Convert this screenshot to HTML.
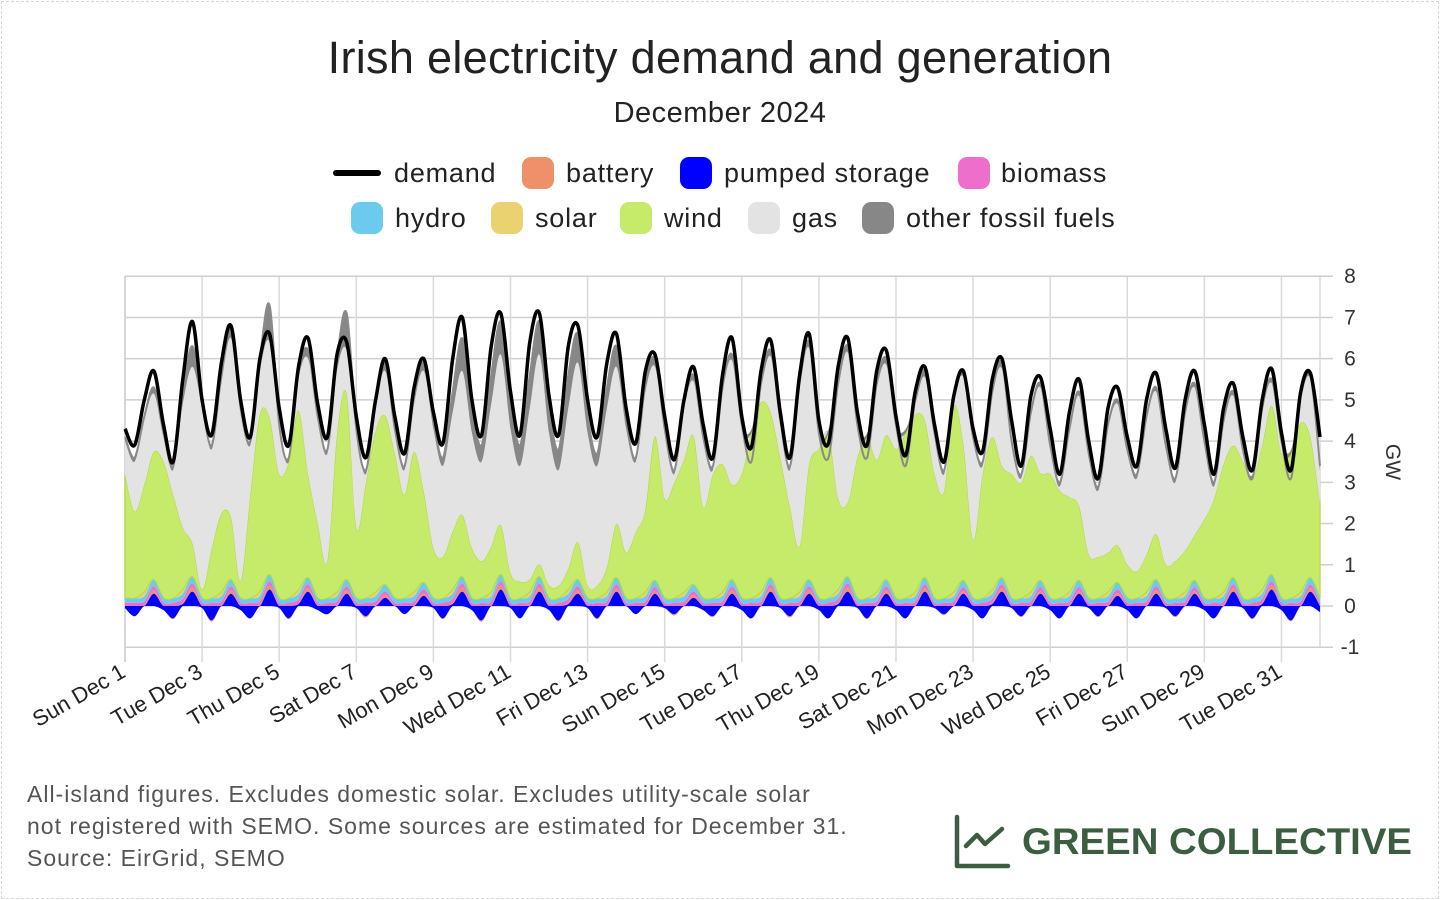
<!DOCTYPE html>
<html><head><meta charset="utf-8"><style>
body{margin:0;background:#fff;font-family:"Liberation Sans",sans-serif;}
#wrap{position:relative;width:1440px;height:900px;overflow:hidden;}
#border{position:absolute;left:1px;top:1px;width:1436px;height:896px;border:1px dashed #d8d8d8;}
.t{position:absolute;color:#222;white-space:nowrap;}
.sw{position:absolute;width:32px;height:32px;border-radius:9px;}
.lt{position:absolute;font-size:27px;color:#222;white-space:nowrap;line-height:32px;letter-spacing:0.8px;}
.foot{position:absolute;left:27px;font-size:23px;color:#555;white-space:nowrap;letter-spacing:1px;}
</style></head><body>
<div id="wrap">
<div id="border"></div>
<div class="t" style="left:0;width:1440px;text-align:center;top:32px;font-size:45px;letter-spacing:0.3px;">Irish electricity demand and generation</div>
<div class="t" style="left:0;width:1440px;text-align:center;top:97px;font-size:29px;letter-spacing:0.5px;">December 2024</div>

<div>
<div><div style="position:absolute;left:333px;top:170px;width:48px;height:6px;border-radius:3px;background:#000"></div><div class="lt" style="left:394px;top:157px">demand</div></div>
<div><div class="sw" style="left:522px;top:157px;background:#ee906a"></div><div class="lt" style="left:566px;top:157px">battery</div></div>
<div><div class="sw" style="left:680px;top:157px;background:#0000ff"></div><div class="lt" style="left:724px;top:157px">pumped storage</div></div>
<div><div class="sw" style="left:958px;top:157px;background:#ee6ecb"></div><div class="lt" style="left:1001px;top:157px">biomass</div></div>
<div><div class="sw" style="left:351px;top:202px;background:#6ccaee"></div><div class="lt" style="left:395px;top:202px">hydro</div></div>
<div><div class="sw" style="left:491px;top:202px;background:#ebd270"></div><div class="lt" style="left:535px;top:202px">solar</div></div>
<div><div class="sw" style="left:620px;top:202px;background:#c6ea6a"></div><div class="lt" style="left:664px;top:202px">wind</div></div>
<div><div class="sw" style="left:748px;top:202px;background:#e3e3e3"></div><div class="lt" style="left:792px;top:202px">gas</div></div>
<div><div class="sw" style="left:862px;top:202px;background:#878787"></div><div class="lt" style="left:906px;top:202px">other fossil fuels</div></div>
</div>

<svg id="chart" width="1440" height="900" style="position:absolute;left:0;top:0" xmlns="http://www.w3.org/2000/svg"></svg>

<div class="foot" style="top:781px">All-island figures. Excludes domestic solar. Excludes utility-scale solar</div>
<div class="foot" style="top:813px">not registered with SEMO. Some sources are estimated for December 31.</div>
<div class="foot" style="top:845px">Source: EirGrid, SEMO</div>

<svg width="480" height="70" style="position:absolute;left:945px;top:808px" xmlns="http://www.w3.org/2000/svg">
<path d="M12 9 V58 H63 M21 38 L32 27 L40 36 L57 21" fill="none" stroke="#3b5e40" stroke-width="4.5" stroke-linecap="round" stroke-linejoin="round"/>
<text x="77" y="46" font-family="Liberation Sans, sans-serif" font-weight="bold" font-size="37" fill="#3b5e40" textLength="390" lengthAdjust="spacingAndGlyphs">GREEN COLLECTIVE</text>
</svg>
</div>
<script>
// sample hours within each day
const sampleHours = [0, 6, 12, 18];
const dayLabels = ["Sun Dec 1","Tue Dec 3","Thu Dec 5","Sat Dec 7","Mon Dec 9","Wed Dec 11","Fri Dec 13","Sun Dec 15","Tue Dec 17","Thu Dec 19","Sat Dec 21","Mon Dec 23","Wed Dec 25","Fri Dec 27","Sun Dec 29","Tue Dec 31"];
const yTicks = [8,7,6,5,4,3,2,1,0,-1];
// GW, 4 samples per day (00,06,12,18) for Dec 1..31, plus Jan 1 00:00
const demand = [
4.3,3.9,5.0,5.7, 4.4,3.5,5.5,6.9, 5.0,4.15,5.9,6.8, 5.0,4.1,6.0,6.6, 4.8,3.9,5.8,6.5,
4.9,4.1,6.1,6.4, 4.6,3.6,5.0,6.0, 4.6,3.7,5.3,6.0, 4.7,3.95,6.0,7.0, 5.0,4.15,6.3,7.1,
5.2,4.15,6.4,7.1, 5.1,4.15,6.3,6.8, 5.0,4.1,5.9,6.6, 4.8,3.95,5.7,6.1, 4.6,3.55,5.0,5.8,
4.4,3.6,5.6,6.5, 4.6,3.85,5.7,6.45, 4.7,3.6,5.6,6.6, 4.5,3.95,5.8,6.5, 4.7,3.9,5.7,6.2,
4.6,3.65,5.2,5.8, 4.4,3.5,5.1,5.7, 4.3,3.75,5.5,6.0, 4.5,3.4,5.1,5.55, 4.3,3.2,4.7,5.5,
4.0,3.1,4.8,5.3, 4.1,3.4,5.0,5.65, 4.3,3.35,5.0,5.7, 4.4,3.2,4.8,5.4, 4.1,3.3,5.0,5.75,
4.2,3.3,5.2,5.65, 4.1];
const generation = [
4.1,3.6,4.6,5.3, 4.2,3.4,5.2,6.3, 4.9,3.9,5.6,6.8, 4.8,4.0,6.0,7.3, 4.4,3.6,5.7,6.2,
4.6,3.8,6.0,7.1, 4.3,3.3,4.9,5.9, 4.3,3.4,5.1,5.9, 4.5,3.6,5.2,6.5, 4.8,3.9,5.6,6.9,
5.0,3.9,5.6,6.9, 4.8,3.8,5.6,6.6, 4.6,3.7,5.3,6.3, 4.5,3.6,5.4,6.0, 4.3,3.3,4.9,5.6,
4.1,3.4,5.3,6.1, 4.4,3.5,5.4,6.2, 4.5,3.4,5.4,6.4, 4.2,3.6,5.4,6.3, 4.4,3.6,5.4,6.0,
4.4,3.4,5.0,5.7, 4.2,3.3,5.1,5.7, 4.1,3.5,5.2,5.9, 4.0,3.2,4.7,5.4, 3.9,3.0,4.3,5.2,
3.7,2.9,4.4,5.0, 3.8,3.2,4.6,5.3, 3.9,3.1,4.7,5.4, 4.0,3.0,4.5,5.2, 3.8,3.1,4.8,5.5,
4.0,3.1,5.1,5.6, 3.4];
const wind = [
3.0,2.1,2.6,3.1, 3.3,2.5,1.5,0.8, 0.2,1.2,1.9,1.5, 0.4,2.5,4.3,3.8, 3.0,3.3,4.35,2.5,
1.8,0.9,3.8,4.5, 1.7,2.8,3.9,4.1, 3.5,2.5,3.4,2.2, 1.2,1.0,1.4,1.5, 1.2,0.9,1.1,1.2,
0.6,0.4,0.3,0.3, 0.3,0.3,0.5,0.9, 0.3,0.3,0.6,1.3, 1.1,1.6,2.0,3.5, 2.4,2.8,3.2,3.6,
2.2,3.0,3.1,2.3, 3.0,4.0,4.6,4.0, 3.4,2.2,1.1,2.8, 3.6,4.0,2.2,1.8, 3.4,3.9,3.2,3.5,
3.6,4.0,4.3,3.8, 3.0,2.6,4.5,3.3, 1.4,3.0,3.7,2.7, 3.0,2.8,3.3,2.6, 3.0,2.6,2.3,1.8,
1.05,1.0,0.95,0.9, 0.8,0.65,0.9,1.1, 0.8,0.9,1.0,1.1, 1.9,2.4,3.1,3.2, 3.3,2.9,3.5,4.1,
3.5,3.5,4.1,3.4, 2.3];
const otherFossil = [
0.1,0.1,0.1,0.15, 0.1,0.1,0.3,0.5, 0.1,0.1,0.2,0.3, 0.1,0.1,0.3,0.9, 0.1,0.1,0.2,0.2,
0.1,0.1,0.3,0.9, 0.1,0.1,0.1,0.2, 0.1,0.1,0.2,0.2, 0.2,0.2,0.5,0.8, 0.6,0.4,0.7,0.8,
0.7,0.5,0.8,0.8, 0.6,0.5,0.8,0.7, 0.4,0.3,0.5,0.5, 0.2,0.1,0.2,0.2, 0.1,0.1,0.1,0.15,
0.1,0.1,0.1,0.15, 0.1,0.1,0.1,0.15, 0.1,0.1,0.1,0.15, 0.1,0.1,0.1,0.15, 0.1,0.1,0.1,0.15,
0.1,0.1,0.1,0.15, 0.1,0.1,0.1,0.15, 0.1,0.1,0.1,0.15, 0.1,0.1,0.1,0.1, 0.1,0.1,0.1,0.1,
0.1,0.1,0.1,0.1, 0.1,0.1,0.1,0.1, 0.1,0.1,0.1,0.1, 0.1,0.1,0.1,0.1, 0.1,0.1,0.1,0.1,
0.1,0.1,0.1,0.1, 0.1];
const pumpedStorage = [
-0.05,-0.25,0.0,0.3, -0.1,-0.3,0.05,0.35, -0.05,-0.35,0.0,0.3, -0.1,-0.3,0.0,0.4, -0.05,-0.3,0.05,0.35,
-0.1,-0.2,0.0,0.3, -0.05,-0.25,0.0,0.2, 0.0,-0.2,0.0,0.25, -0.05,-0.3,0.05,0.35, -0.1,-0.35,0.0,0.4,
-0.05,-0.3,0.0,0.35, -0.1,-0.35,0.05,0.3, -0.05,-0.3,0.0,0.35, 0.0,-0.2,0.0,0.3, -0.05,-0.2,0.0,0.2,
-0.1,-0.25,0.0,0.3, -0.1,-0.3,0.0,0.35, -0.05,-0.25,0.0,0.3, -0.1,-0.3,0.05,0.35, -0.05,-0.3,0.0,0.3,
-0.1,-0.3,0.0,0.35, -0.05,-0.2,0.0,0.3, -0.1,-0.3,0.05,0.35, -0.05,-0.25,0.0,0.3, -0.1,-0.3,0.0,0.3,
-0.05,-0.25,0.0,0.25, -0.1,-0.3,0.0,0.3, -0.05,-0.25,0.0,0.3, -0.1,-0.3,0.0,0.35, -0.05,-0.3,0.05,0.4,
-0.1,-0.35,0.0,0.35, -0.15];
const battery = [
0.0,0.0,0.02,0.08, 0.0,-0.02,0.03,0.1, 0.0,-0.03,0.02,0.08, 0.0,0.0,0.03,0.1, 0.0,-0.02,0.02,0.08,
0.0,0.0,0.02,0.08, 0.0,-0.03,0.02,0.06, 0.0,0.0,0.02,0.06, 0.0,-0.02,0.03,0.1, 0.0,-0.03,0.02,0.1,
0.0,0.0,0.02,0.1, 0.0,-0.02,0.03,0.08, 0.0,-0.02,0.02,0.08, 0.0,0.0,0.02,0.06, 0.0,-0.03,0.02,0.06,
0.0,-0.02,0.02,0.08, 0.0,0.0,0.02,0.08, 0.0,-0.03,0.02,0.08, 0.0,0.0,0.03,0.1, 0.0,-0.02,0.02,0.08,
0.0,0.0,0.02,0.08, 0.0,-0.02,0.02,0.06, 0.0,0.0,0.03,0.08, 0.0,-0.02,0.02,0.06, 0.0,0.0,0.02,0.06,
0.0,-0.02,0.02,0.06, 0.0,0.0,0.02,0.08, 0.0,-0.02,0.02,0.06, 0.0,0.0,0.02,0.08, 0.0,-0.02,0.03,0.1,
0.0,-0.02,0.02,0.08, 0.0];
const biomass = [0.08,0.08,0.09,0.1];
const hydro = [0.12,0.11,0.13,0.16];
const solar = [0.0,0.0,0.1,0.0];

const svg = document.getElementById('chart');
const NS = 'http://www.w3.org/2000/svg';
const X0 = 125, X1 = 1320, HOURS = 744;
const xScale = h => X0 + h * (X1 - X0) / HOURS;
const yScale = v => 606 - v * 41.22;
function mk(tag, attrs, parent){ const e=document.createElementNS(NS,tag); for(const k in attrs) e.setAttribute(k,attrs[k]); (parent||svg).appendChild(e); return e; }
// smooth curve through points (Catmull-Rom -> cubic bezier); pts array of [x,y]
function smooth(pts, move){
  let d = (move ? 'M' : 'L') + pts[0][0].toFixed(1)+','+pts[0][1].toFixed(1);
  for (let i=0;i<pts.length-1;i++){
    const p0 = pts[Math.max(0,i-1)], p1 = pts[i], p2 = pts[i+1], p3 = pts[Math.min(pts.length-1,i+2)];
    const c1x = p1[0]+(p2[0]-p0[0])/6, c1y = p1[1]+(p2[1]-p0[1])/6;
    const c2x = p2[0]-(p3[0]-p1[0])/6, c2y = p2[1]-(p3[1]-p1[1])/6;
    d += ` C${c1x.toFixed(1)},${c1y.toFixed(1)} ${c2x.toFixed(1)},${c2y.toFixed(1)} ${p2[0].toFixed(1)},${p2[1].toFixed(1)}`;
  }
  return d;
}

const times = demand.map((_, i) => Math.floor(i/4)*24 + sampleHours[i%4]);

// grid
const grid = mk('g', {});


yTicks.forEach(v => {
  const l = mk('line', {x1:X0, x2:1333, y1:yScale(v), y2:yScale(v), stroke:'#cfcfcf', 'stroke-width':1.5}, grid);
  
  
  const t = mk('text', {x:1350, y:yScale(v)+7, 'text-anchor':'middle', 'font-size':21, fill:'#333', 'font-family':'Liberation Sans, sans-serif'});
  t.textContent = v;
  
  
});
dayLabels.forEach((lab, i) => {
  const x = xScale(i*48);
  const l = mk('line', {x1:x, x2:x, y1:276, y2:662, stroke:'#dadada', 'stroke-width':1.5}, grid);
  
  
  const t = mk('text', {x:x+2, y:676, 'text-anchor':'end', 'font-size':22, fill:'#222', 'font-family':'Liberation Sans, sans-serif', transform:`rotate(-30 ${x+2} 676)`});
  t.textContent = lab;
  
  
});
const edge = mk('line', {x1:X1, x2:X1, y1:276, y2:647, stroke:'#dadada', 'stroke-width':1.5}, grid);


const yax = mk('line', {x1:X0, x2:X0, y1:276, y2:662, stroke:'#cfcfcf', 'stroke-width':1.5}, grid);


const gw = mk('text', {x:1386, y:462, 'text-anchor':'middle', 'font-size':21, fill:'#333', 'font-family':'Liberation Sans, sans-serif', transform:'rotate(90 1386 462)'});
gw.textContent = 'GW';



// stacks
const n = demand.length;
const posPS = [], negPS = [], bat = [], bio = [], hyd = [], sol = [], win = [], gas = [], oth = [];
for (let i=0;i<n;i++){
  const k = i%4;
  posPS.push(Math.max(0,pumpedStorage[i])); negPS.push(Math.min(0,pumpedStorage[i]));
  bat.push(battery[i]); bio.push(biomass[k]); hyd.push(hydro[k]); sol.push(solar[k]);
  win.push(wind[i]); oth.push(otherFossil[i]);
  const below = posPS[i] + Math.max(0,battery[i]) + biomass[k] + hydro[k] + solar[k] + wind[i];
  gas.push(Math.max(0, generation[i] - otherFossil[i] - below));
}
const stackOrder = [
  ['pumped-storage-area', posPS, '#0000ff'],
  ['battery-area', bat.map(v=>Math.max(0,v)), '#ee906a'],
  ['biomass-area', bio, '#ee6ecb'],
  ['hydro-area', hyd, '#6ccaee'],
  ['solar-area', sol, '#ebd270'],
  ['wind-area', win, '#c6ea6a'],
  ['gas-area', gas, '#e3e3e3'],
  ['other-fossil-area', oth, '#878787'],
];
function areaPath(top, bot){
  const tp = times.map((t,i)=>[xScale(t), yScale(top[i])]);
  const bp = times.map((t,i)=>[xScale(t), yScale(bot[i])]).reverse();
  return smooth(tp, true) + ' ' + smooth(bp, false) + 'Z';
}
const base = new Array(n).fill(0);
const areaG = mk('g', {});


stackOrder.forEach(([name, vals, col]) => {
  const top = base.map((b,i)=>b+vals[i]);
  const p = mk('path', {d:areaPath(top, base), fill:col, stroke: name==='wind-area' ? '#b2da3c' : 'none', 'stroke-width':1}, areaG);
  
  
  for (let i=0;i<n;i++) base[i]=top[i];
});
const nb = new Array(n).fill(0);
[['pumped-storage-charging-area', negPS, '#0000ff'], ['battery-charging-area', bat.map(v=>Math.min(0,v)), '#ee906a']].forEach(([name, vals, col]) => {
  const bot = nb.map((b,i)=>b+vals[i]);
  const p = mk('path', {d:areaPath(nb, bot), fill:col}, areaG);
  
  
  for (let i=0;i<n;i++) nb[i]=bot[i];
});
const genLine = mk('path', {d:smooth(times.map((t,i)=>[xScale(t), yScale(generation[i])]), true), fill:'none', stroke:'#8a8a8a', 'stroke-width':2});


const dl = mk('path', {d:smooth(times.map((t,i)=>[xScale(t), yScale(demand[i])]), true), fill:'none', stroke:'#000', 'stroke-width':3.5, 'stroke-linejoin':'round'});


const topL = mk('line', {x1:X0, x2:1333, y1:yScale(8), y2:yScale(8), stroke:'#cfcfcf', 'stroke-width':1.5});


</script>
</body></html>
